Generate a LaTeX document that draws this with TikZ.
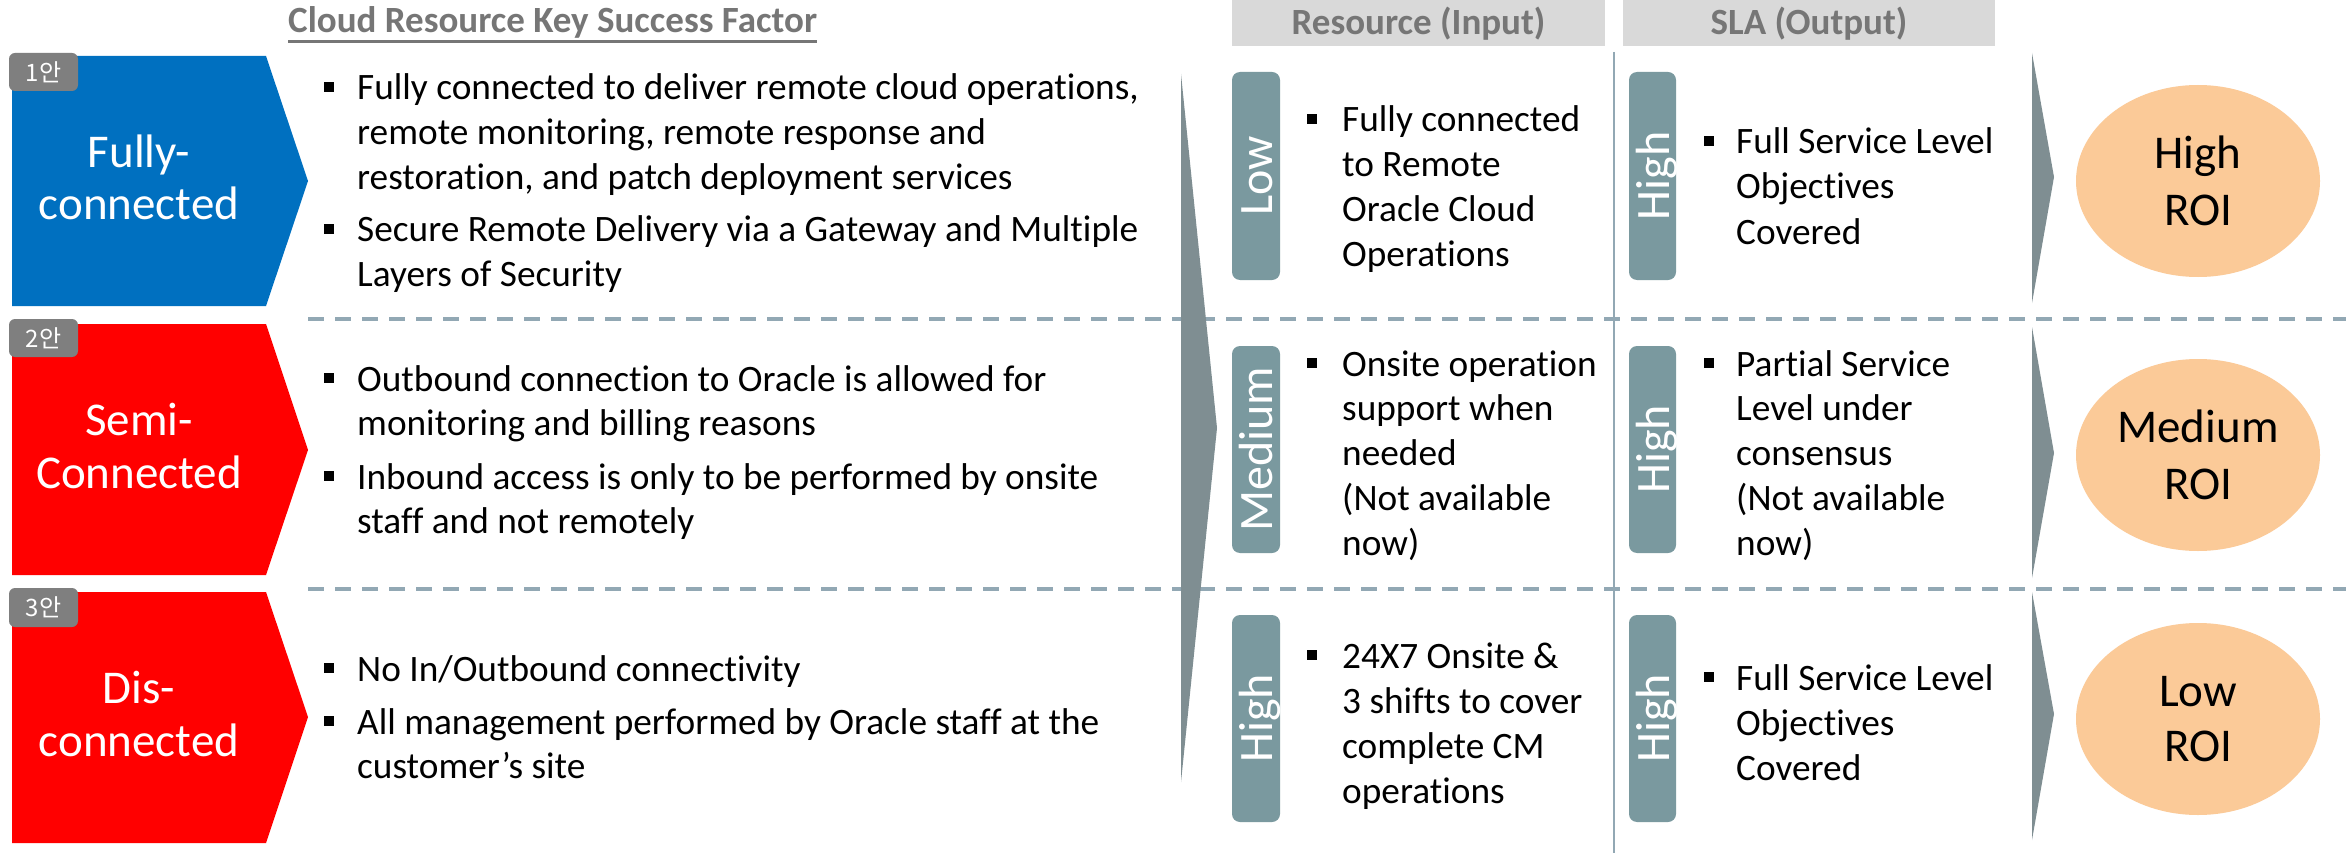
\documentclass[tikz,border=0pt]{standalone}
\usepackage{fontspec}
\setmainfont[Ligatures=NoCommon]{Carlito}
\newfontfamily\krfont{Noto Sans CJK KR}
\definecolor{blueP}{RGB}{0,112,192}
\definecolor{redP}{RGB}{255,0,0}
\definecolor{badgeG}{RGB}{127,127,127}
\definecolor{tagC}{RGB}{122,153,159}
\definecolor{chevC}{RGB}{127,142,146}
\definecolor{dashC}{RGB}{146,168,180}
\definecolor{peach}{RGB}{251,202,152}
\definecolor{hdrG}{RGB}{217,217,217}
\definecolor{titleG}{RGB}{118,118,118}
\newcommand\Tx[4]{\node[txt] (#1) at (#2,#3) {#4};}
\newcommand\Bu[3]{\node[bsq] (#1) at (#2,#3) {};}
\begin{document}
\begin{tikzpicture}[x=1pt,y=-1pt,
  txt/.style={anchor=base west,inner sep=0pt,font=\fontsize{37.3}{45}\selectfont,text=black},
  bsq/.style={fill=black,inner sep=0pt,minimum size=10pt},
  lbl/.style={anchor=base,inner sep=0pt,text=white,font=\fontsize{47}{54}\selectfont},
  roi/.style={anchor=base,inner sep=0pt,text=black,font=\fontsize{47}{56}\selectfont},
  badgetxt/.style={inner sep=0pt,text=white,font=\krfont\fontsize{24}{28}\selectfont},
  tagtxt/.style={anchor=base,rotate=90,inner sep=0pt,text=white,font=\fontsize{48}{54}\selectfont},
  hdr/.style={anchor=base,inner sep=0pt,text=titleG,font=\bfseries\fontsize{37}{42}\selectfont},
  dline/.style={draw=dashC,line width=4pt,dash pattern=on 16pt off 11pt},
]
\useasboundingbox (0,0) rectangle (2346,853);
\fill[white] (0,0) rectangle (2346,853);

% headers
\fill[hdrG] (1232,0) rectangle (1605,46);
\fill[hdrG] (1623,0) rectangle (1995,46);
\node[hdr] (hres) at (1418.5,35) {Resource (Input)};
\node[hdr] (hsla) at (1809,35) {SLA (Output)};
\node[hdr,anchor=base west] (title) at (288,33) {Cloud Resource Key Success Factor};
\draw[titleG,line width=3pt] ([yshift=-9pt]title.base west) -- ([yshift=-9pt]title.base east);

% vertical divider
\draw[dashC,line width=2.5pt] (1614,52) -- (1614,853);

% dashed separators
\draw[dline] (308,319) -- (2346,319);
\draw[dline] (308,589) -- (2346,589);

% big chevron and small chevrons
\fill[chevC] (1181,74) -- (1217,428) -- (1181,782) -- cycle;
\fill[chevC] (2032,53) -- (2054,177) -- (2032,303) -- cycle;
\fill[chevC] (2032,327) -- (2054,453) -- (2032,578) -- cycle;
\fill[chevC] (2032,592) -- (2054,714) -- (2032,840) -- cycle;

% pentagons
\fill[blueP] (12,56) -- (266,56) -- (308,181) -- (266,306) -- (12,306) -- cycle;
\fill[redP] (12,324) -- (266,324) -- (308,450) -- (266,575) -- (12,575) -- cycle;
\fill[redP] (12,592) -- (266,592) -- (308,717) -- (266,843) -- (12,843) -- cycle;
\node[lbl] (p1a) at (139,168) {Fully-};
\node[lbl] (p1b) at (139,220) {connected};
\node[lbl] (p2a) at (139,435) {Semi-};
\node[lbl] (p2b) at (139,488) {Connected};
\node[lbl] (p3a) at (139,703) {Dis-};
\node[lbl] (p3b) at (139,756) {connected};

% badges
\fill[badgeG,rounded corners=6pt] (9,53) rectangle (78,91);
\fill[badgeG,rounded corners=6pt] (9,319) rectangle (78,357);
\fill[badgeG,rounded corners=6pt] (9,588) rectangle (78,627);
\node[badgetxt] (b1) at (43.5,72) {1안};
\node[badgetxt] (b2) at (43.5,338) {2안};
\node[badgetxt] (b3) at (43.5,607.5) {3안};

% tags
\fill[tagC,rounded corners=8pt] (1232,72) rectangle (1280,280);
\fill[tagC,rounded corners=8pt] (1232,346) rectangle (1280,553);
\fill[tagC,rounded corners=8pt] (1232,615) rectangle (1280,822);
\fill[tagC,rounded corners=8pt] (1629,72) rectangle (1676,280);
\fill[tagC,rounded corners=8pt] (1629,346) rectangle (1676,553);
\fill[tagC,rounded corners=8pt] (1629,615) rectangle (1676,822);
\node[tagtxt] (t1) at (1272,176) {Low};
\node[tagtxt] (t2) at (1272,449.5) {Medium};
\node[tagtxt] (t3) at (1272,718.5) {High};
\node[tagtxt] (s1) at (1669,176) {High};
\node[tagtxt] (s2) at (1669,449.5) {High};
\node[tagtxt] (s3) at (1669,718.5) {High};

% ROI ellipses
\fill[peach] (2198,181) ellipse [x radius=122, y radius=96];
\fill[peach] (2198,455) ellipse [x radius=122, y radius=96];
\fill[peach] (2198,719) ellipse [x radius=122, y radius=96];
\node[roi] (r1a) at (2198,169) {High};
\node[roi] (r1b) at (2198,226) {ROI};
\node[roi] (r2a) at (2198,442) {Medium};
\node[roi] (r2b) at (2198,499) {ROI};
\node[roi] (r3a) at (2198,706) {Low};
\node[roi] (r3b) at (2198,761) {ROI};

% left column bullets
\Bu{lb1}{329}{87}
\Tx{l1}{357}{100}{Fully connected to deliver remote cloud operations,}
\Tx{l2}{357}{145}{remote monitoring, remote response and}
\Tx{l3}{357}{190}{restoration, and patch deployment services}
\Bu{lb2}{329}{229}
\Tx{l4}{357}{242}{Secure Remote Delivery via a Gateway and Multiple}
\Tx{l5}{357}{287}{Layers of Security}
\Bu{lb3}{329}{378}
\Tx{l6}{357}{391}{Outbound connection to Oracle is allowed for}
\Tx{l7}{357}{435}{monitoring and billing reasons}
\Bu{lb4}{329}{476}
\Tx{l8}{357}{489}{Inbound access is only to be performed by onsite}
\Tx{l9}{357}{533}{staff and not remotely}
\Bu{lb5}{329}{668}
\Tx{l10}{357}{681}{No In/Outbound connectivity}
\Bu{lb6}{329}{721}
\Tx{l11}{357}{734}{All management performed by Oracle staff at the}
\Tx{l12}{357}{778}{customer’s site}

% resource column
\Bu{rb1}{1312}{119}
\Tx{ra1}{1342}{132}{Fully connected}
\Tx{ra2}{1342}{177}{to Remote}
\Tx{ra3}{1342}{222}{Oracle Cloud}
\Tx{ra4}{1342}{267}{Operations}
\Bu{rb2}{1312}{363}
\Tx{rb1t}{1342}{376}{Onsite operation}
\Tx{rb2t}{1342}{420}{support when}
\Tx{rb3t}{1342}{465}{needed}
\Tx{rb4t}{1342}{510}{(Not available}
\Tx{rb5t}{1342}{555}{now)}
\Bu{rb3}{1312}{655}
\Tx{rc1}{1342}{668}{24X7 Onsite \&}
\Tx{rc2}{1342}{713}{3 shifts to cover}
\Tx{rc3}{1342}{758}{complete CM}
\Tx{rc4}{1342}{803}{operations}

% SLA column
\Bu{sb1}{1709}{141}
\Tx{sa1}{1736}{154}{Full Service Level}
\Tx{sa2}{1736}{199}{Objectives}
\Tx{sa3}{1736}{244}{Covered}
\Bu{sb2}{1709}{363}
\Tx{sb1t}{1736}{376}{Partial Service}
\Tx{sb2t}{1736}{420}{Level under}
\Tx{sb3t}{1736}{465}{consensus}
\Tx{sb4t}{1736}{510}{(Not available}
\Tx{sb5t}{1736}{555}{now)}
\Bu{sb3}{1709}{677}
\Tx{sc1}{1736}{690}{Full Service Level}
\Tx{sc2}{1736}{735}{Objectives}
\Tx{sc3}{1736}{780}{Covered}
\end{tikzpicture}
\end{document}
